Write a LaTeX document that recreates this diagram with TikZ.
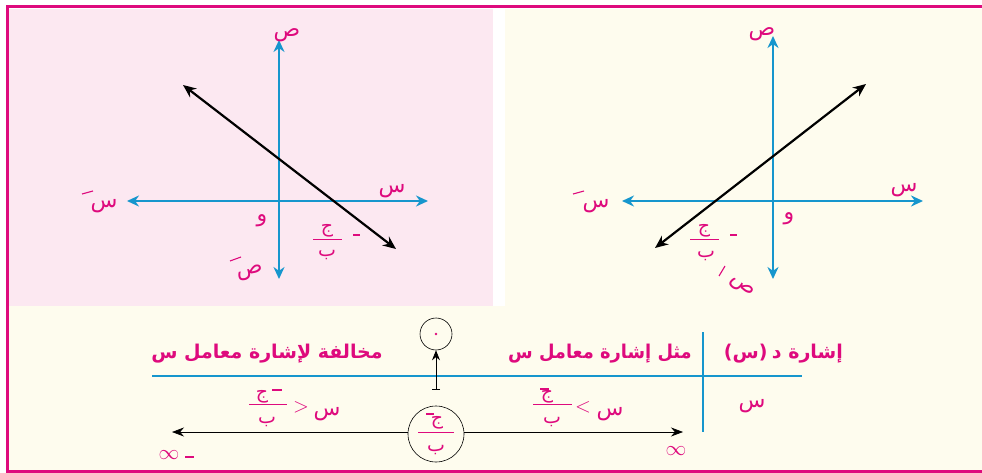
\documentclass[tikz,border=0pt]{standalone}
\usepackage{fontspec}
\usetikzlibrary{arrows.meta}
\TeXXeTstate=1
\newfontfamily\arabicfont[Script=Arabic]{DejaVu Sans}
\definecolor{mag}{RGB}{222,10,125}
\definecolor{axblue}{RGB}{22,150,205}
\definecolor{pinkbg}{RGB}{252,232,241}
\definecolor{creambg}{RGB}{254,252,238}
\tikzset{
  axis/.style={draw=axblue,line width=2.6pt,{Stealth[length=12pt,width=11pt]}-{Stealth[length=12pt,width=11pt]}},
  graphline/.style={draw=black,line width=2.2pt,{Stealth[length=13pt,width=11pt]}-{Stealth[length=13pt,width=11pt]}},
  lbl/.style={text=mag,font=\arabicfont\fontsize{22}{24}\selectfont,inner sep=0pt,yshift=-5pt},
  word/.style={text=mag,font=\arabicfont\bfseries\fontsize{19}{22}\selectfont,inner sep=0pt,yshift=-4pt},
  small/.style={text=mag,font=\arabicfont\fontsize{19}{21}\selectfont,inner sep=0pt,yshift=-4pt},
  minusbar/.style={draw=mag,line width=1.1pt},
  fracbar/.style={draw=mag,line width=0.9pt},
  tbl/.style={draw=axblue,line width=2.6pt},
  circ/.style={draw=black,line width=0.6pt,circle,fill=creambg},
  sym/.style={text=mag,font=\fontsize{22}{24}\selectfont,inner sep=0pt},
}
\begin{document}
\begin{tikzpicture}[x=1pt,y=-1pt]
\useasboundingbox (0,0) rectangle (982,473);
\fill[white] (0,0) rectangle (982,473);
% panels
\fill[pinkbg] (9,9) rectangle (493,306);
\fill[creambg] (505,9) rectangle (982,306);
\fill[creambg] (9,306) rectangle (982,470);
\draw[mag,line width=3pt] (982,7) -- (7,7) -- (7,471) -- (982,471);

% ---------- left graph ----------
\coordinate (LO) at (279,201);
\coordinate (LXl) at (127,201);
\coordinate (LXr) at (428,201);
\coordinate (LYt) at (279,40);
\coordinate (LYb) at (279,279);
\coordinate (LA) at (183,85);
\coordinate (LB) at (396,249);
\draw[axis] (LXl) -- (LXr);
\draw[axis] (LYt) -- (LYb);
\draw[graphline] (LA) -- (LB);
\node[lbl] (Lsad) at (287,30) {ص};
\node[lbl] (Lsin) at (392,186) {س};
\node[lbl] (Lsinm) at (104,201) {س};
\draw[minusbar] (82,194) -- (93,191);
\node[lbl] (Lwaw) at (262,216) {و};
\node[small] (Lj) at (327,227) {ج};
\draw[fracbar] (313,239) -- (342,239);
\node[small] (Lb) at (327,251) {ب};
\draw[minusbar] (353,235) -- (360,235);
\node[lbl,rotate=10] (Lsadm) at (250,268) {ص};
\draw[minusbar] (230,261) -- (241,257);

% ---------- right graph ----------
\coordinate (RO) at (773,201);
\coordinate (RXl) at (622,201);
\coordinate (RXr) at (923,201);
\coordinate (RYt) at (773,36);
\coordinate (RYb) at (773,279);
\coordinate (RA) at (655,248);
\coordinate (RB) at (866,84);
\draw[axis] (RXl) -- (RXr);
\draw[axis] (RYt) -- (RYb);
\draw[graphline] (RA) -- (RB);
\node[lbl] (Rsad) at (762,29) {ص};
\node[lbl] (Rsin) at (904,185) {س};
\node[lbl] (Rsinm) at (596,201) {س};
\draw[minusbar] (573,194) -- (584,191);
\node[lbl] (Rwaw) at (789,214) {و};
\node[small] (Rj) at (704,227) {ج};
\draw[fracbar] (690,239) -- (719,239);
\node[small] (Rb) at (706,252) {ب};
\draw[minusbar] (730,235) -- (737,235);
\node[lbl,rotate=-40] (Rsadm) at (742,282) {ص};
\draw[minusbar] (719,276) -- (725,266);

% ---------- table ----------
\coordinate (Th1) at (152,376);
\coordinate (Th2) at (802,376);
\coordinate (Tv1) at (703,332);
\coordinate (Tv2) at (703,432);
\draw[tbl] (Th1) -- (Th2);
\draw[tbl] (Tv1) -- (Tv2);
\node[word,anchor=east] (hsign) at (843,350) {\beginR إشارة د\endR};
\node[word,anchor=east] (hsx) at ([xshift=-4pt,yshift=4pt]hsign.west) {(س)};
\node[word,xscale=0.94] (same) at (600,350) {\beginR مثل إشارة معامل س\endR};
\node[word] (opp) at (267,350) {\beginR مخالفة لإشارة معامل س\endR};
\node[lbl] (xrow) at (752,401) {س};

% zero circle and arrow
\node[circ,minimum size=32pt] (zero) at (436,334) {};
\fill[mag] (zero.center) circle (1.3pt);
\coordinate (ztail) at (436,390);
\draw[black,line width=0.7pt,{Bar[width=8pt]}-{Stealth[length=10pt,width=8pt]}] (ztail) -- (zero.south);

% number line
\coordinate (NL) at (172,432);
\coordinate (NR) at (683,432);
\draw[black,line width=0.7pt,{Stealth[length=12pt,width=9pt]}-{Stealth[length=12pt,width=9pt]}] (NL) -- (NR);
\node[circ,minimum size=56pt] (root) at (436,434) {};
\node[small] (rj) at (437,419) {ج};
\draw[fracbar] (418,432) -- (454,432);
\node[small] (rb) at (436,446) {ب};
\draw[minusbar] (426,414) -- (434,414);
\node[sym] (ninf) at (169,455) {$\infty$};
\draw[minusbar] (185,457) -- (194,457);
\node[sym] (pinf) at (676,451) {$\infty$};

% inequality labels
\node[small] (lj) at (262,393) {ج};
\draw[fracbar] (249,404) -- (287,404);
\node[small] (lb) at (267,418) {ب};
\draw[minusbar] (272,390) -- (282,390);
\node[sym] (lgt) at (301,407) {$>$};
\node[lbl] (lx) at (327,409) {س};

\node[small] (rj2) at (547,393) {ج};
\draw[fracbar] (533,404) -- (572,404);
\node[small] (rb2) at (552,418) {ب};
\draw[minusbar] (540,389) -- (549,389);
\node[sym] (rlt) at (583,407) {$<$};
\node[lbl] (rx) at (610,409) {س};
\end{tikzpicture}
\end{document}
